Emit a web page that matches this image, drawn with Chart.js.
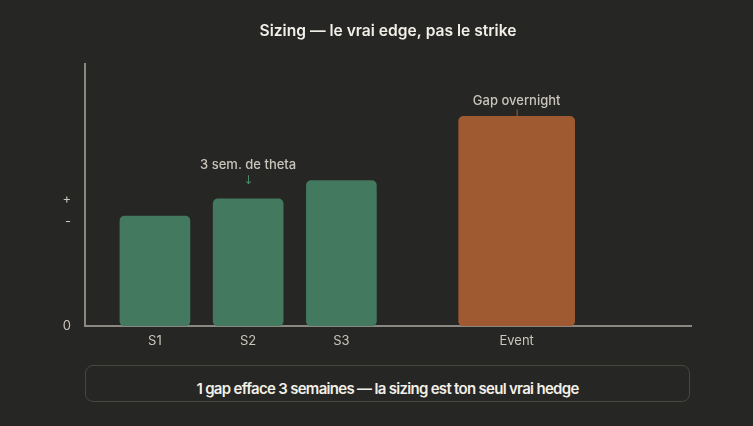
<!DOCTYPE html>
<html>
<head>
<meta charset="utf-8">
<script src="https://cdn.jsdelivr.net/npm/chart.js@4"></script>
<style>
  html, body { margin: 0; padding: 0; background: #262624; }
  #wrap { position: relative; width: 753px; height: 426px; }
  #chart-box { position: absolute; left: 0; top: 0; width: 753px; height: 360px; }
  #note {
    position: absolute; left: 85px; top: 365px; width: 603px; height: 35px; box-sizing: content-box;
    border: 1px solid #47463f; border-radius: 8px;
    color: #f2efe8; font: 600 15px Inter, "Noto Sans", sans-serif; letter-spacing: -0.7px;
    text-align: center; line-height: 18px;
  }
  #note span { display: inline-block; margin-top: 14px; }
</style>
</head>
<body>
<div id="wrap">
  <div id="chart-box"><canvas id="graph"></canvas></div>
  <div id="note"><span>1 gap efface 3 semaines — la sizing est ton seul vrai hedge</span></div>
</div>
<script>
const labels = ['S1', 'S2', 'S3', 'Event'];
const xPos = [1, 2, 3, 4.88];
const values = [42, 48.5, 55.5, 80];
const yTickValues = [0, 39.5, 48.5];
const yTickLabels = ['0', '-', '+'];
const title = 'Sizing — le vrai edge, pas le strike';
const notes = [
  { i: 1, text: '3 sem. de theta', mark: '↓', color: '#4d8a6a' },
  { i: 3, text: 'Gap overnight', mark: '|', color: '#a65c33' }
];

const green = '#437a5f';
const orange = '#9f5a31';
const tickColor = '#c9c5ba';

const annotate = {
  id: 'annotate',
  afterDraw(chart) {
    const { ctx, chartArea, scales: { x, y } } = chart;
    ctx.save();
    ctx.textAlign = 'center';
    ctx.textBaseline = 'middle';
    // title, centred over the plot area
    ctx.fillStyle = '#f2efe8';
    ctx.font = '600 15.6px Inter, "Noto Sans", sans-serif';
    ctx.fillText(title, (chartArea.left + chartArea.right) / 2, 31);
    notes.forEach(n => {
      const px = x.getPixelForValue(xPos[n.i]);
      const top = y.getPixelForValue(values[n.i]);
      ctx.fillStyle = tickColor;
      ctx.font = '500 13px Inter, "Noto Sans", sans-serif';
      if (n.mark === '↓') {
        ctx.fillText(n.text, px, top - 34);
        ctx.fillStyle = n.color;
        ctx.font = '12px "DejaVu Sans", sans-serif';
        ctx.fillText(n.mark, px, top - 18);
      } else {
        ctx.fillText(n.text, px, top - 15);
        ctx.strokeStyle = n.color;
        ctx.lineWidth = 1;
        ctx.beginPath();
        ctx.moveTo(px + 0.5, top - 7);
        ctx.lineTo(px + 0.5, top);
        ctx.stroke();
      }
    });
    ctx.restore();
  }
};

new Chart(document.getElementById('graph'), {
  type: 'bar',
  data: {
    datasets: [{
      label: 'Semaines',
      data: xPos.slice(0, 3).map((x, i) => ({ x: x, y: values[i] })),
      backgroundColor: green,
      barThickness: 70,
      borderRadius: 5,
      borderSkipped: false
    }, {
      label: 'Event',
      data: [{ x: xPos[3], y: values[3] }],
      backgroundColor: orange,
      barThickness: 116,
      borderRadius: 5,
      borderSkipped: false
    }]
  },
  options: {
    responsive: true,
    maintainAspectRatio: false,
    animation: false,
    layout: { padding: { left: 0, right: 62, top: 64, bottom: 0 } },
    datasets: { bar: { grouped: false } },
    plugins: {
      legend: { display: false },
      tooltip: { enabled: false },
      title: { display: false }
    },
    scales: {
      x: {
        type: 'linear',
        offset: false,
        min: 0.25,
        max: 6.75,
        grid: { display: false, drawTicks: false },
        border: { color: '#8a8880', width: 2 },
        afterBuildTicks: s => { s.ticks = xPos.map(v => ({ value: v })); },
        afterFit: s => { s.height = 34; },
        ticks: {
          color: tickColor,
          padding: 7,
          font: { family: 'Inter, "Noto Sans", sans-serif', size: 13 },
          callback: v => labels[xPos.indexOf(v)]
        }
      },
      y: {
        min: 0,
        max: 100,
        grid: { display: false, drawTicks: false },
        border: { color: '#8a8880', width: 2 },
        afterBuildTicks: s => { s.ticks = yTickValues.map(v => ({ value: v })); },
        afterFit: s => { s.width = 85; },
        ticks: {
          color: tickColor,
          padding: 14,
          font: { family: 'Inter, "Noto Sans", sans-serif', size: 13 },
          callback: v => yTickLabels[yTickValues.indexOf(v)]
        }
      }
    }
  },
  plugins: [annotate]
});
</script>
</body>
</html>
